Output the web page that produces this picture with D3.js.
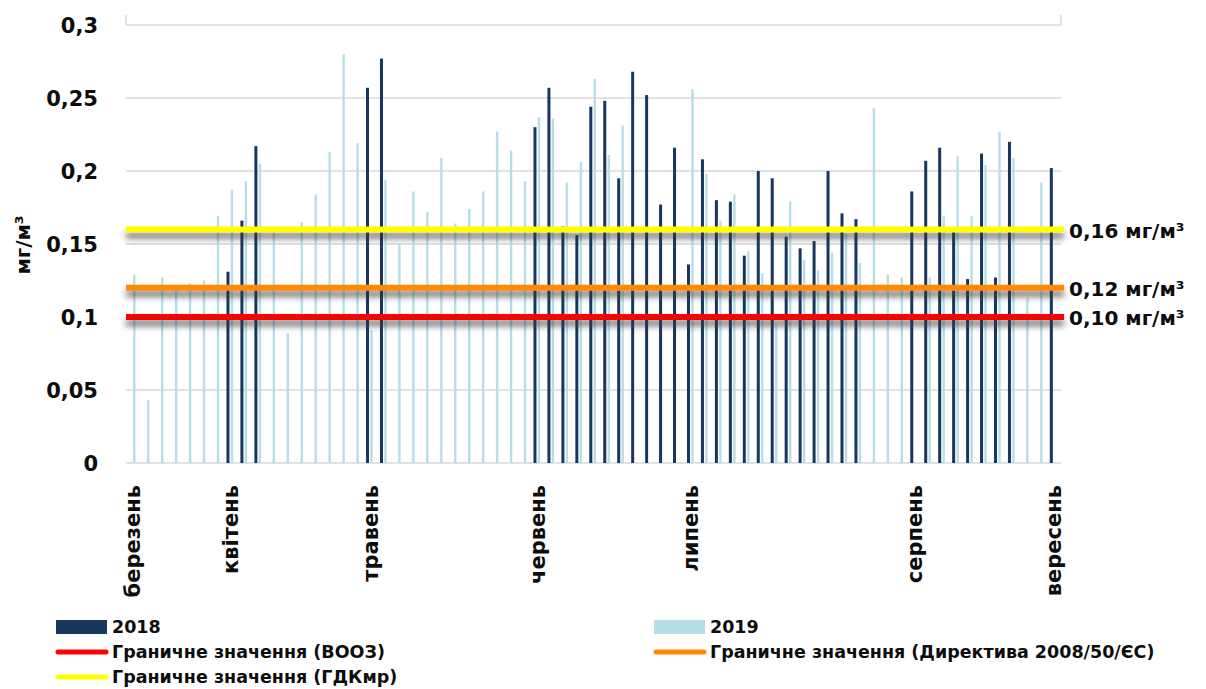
<!DOCTYPE html>
<html>
<head>
<meta charset="utf-8">
<script src="https://cdn.jsdelivr.net/npm/d3@7"></script>
<style>
  body { margin: 0; background: #ffffff; }
  svg text { font-family: "DejaVu Sans", sans-serif; font-weight: bold; fill: #0d0d0d; }
</style>
</head>
<body>
<svg id="chart" width="1206" height="689"></svg>
<script>
// Daily concentrations, мг/м³ (null = no measurement that day)
const values2018 = [
  null, null, null, null, null, null, null, 0.131, 0.166, 0.217,
  null, null, null, null, null, null, null, 0.257, 0.277, null,
  null, null, null, null, null, null, null, null, null, 0.230,
  0.257, 0.162, 0.156, 0.244, 0.248, 0.195, 0.268, 0.252, 0.177, 0.216,
  0.136, 0.208, 0.180, 0.179, 0.142, 0.200, 0.195, 0.155, 0.147, 0.152,
  0.200, 0.171, 0.167, null, null, null, 0.186, 0.207, 0.216, 0.161,
  0.126, 0.212, 0.127, 0.220, null, null, 0.202
];
const values2019 = [
  0.129, 0.043, 0.127, 0.119, 0.123, 0.125, 0.169, 0.187, 0.193, 0.205,
  0.158, 0.089, 0.165, 0.184, 0.213, 0.280, 0.219, 0.091, 0.194, 0.150,
  0.186, 0.172, 0.209, 0.164, 0.174, 0.186, 0.227, 0.214, 0.193, 0.237,
  0.236, 0.192, 0.206, 0.263, 0.211, 0.231, null, null, null, null,
  0.256, 0.198, 0.166, 0.184, 0.145, 0.130, 0.095, 0.179, 0.139, 0.132,
  0.144, 0.157, 0.137, 0.243, 0.129, 0.127, null, 0.127, 0.169, 0.210,
  0.169, 0.204, 0.227, 0.209, 0.113, 0.192, null
];
const monthNames = ["березень", "квітень", "травень", "червень", "липень", "серпень", "вересень"];
const monthStartIndex = [0, 7, 17, 29, 40, 56, 66];

const limitValues = [0.10, 0.12, 0.16];
const limitLabels = ["0,10 мг/м³", "0,12 мг/м³", "0,16 мг/м³"];
const limitNames = ["Граничне значення (ВООЗ)", "Граничне значення (Директива 2008/50/ЄС)", "Граничне значення (ГДКмр)"];

const yTicks = [0, 0.05, 0.1, 0.15, 0.2, 0.25, 0.3];
const yTickLabels = ["0", "0,05", "0,1", "0,15", "0,2", "0,25", "0,3"];

const seriesNames = ["2018", "2019"];
const seriesColors = ["#17375e", "#b7dee8"];
const limitColors = ["#ff0000", "#ff8a00", "#ffff00"];

const svg = d3.select("#chart");
const plot = { left: 126, right: 1061, top: 25, bottom: 463 };

const categories = values2019.map((_, i) => i);
const x = d3.scaleBand().domain(categories).range([plot.left, plot.right]).padding(0);
const bw = x.bandwidth();
// two bars per day, sitting slightly left of the band centre
const xSeries = d3.scaleBand().domain(seriesNames).range([bw / 2 - 4.7, bw / 2 + 3.3]);
const y = d3.scaleLinear().domain([0, 0.3]).range([plot.bottom, plot.top]);

// soft shadow under the limit lines
const defs = svg.append("defs");
const f = defs.append("filter").attr("id", "lineShadow")
  .attr("filterUnits", "userSpaceOnUse")
  .attr("x", 0).attr("y", 0).attr("width", 1206).attr("height", 689);
f.append("feDropShadow").attr("dx", 0).attr("dy", 6).attr("stdDeviation", 3)
  .attr("flood-color", "#333333").attr("flood-opacity", 0.7);

// gridlines
svg.append("g").selectAll("line").data(yTicks).join("line")
  .attr("x1", plot.left).attr("x2", plot.right)
  .attr("y1", d => y(d)).attr("y2", d => y(d))
  .attr("stroke", "#d9d9d9").attr("stroke-width", 1.5);
svg.append("g").selectAll("line").data([plot.left, plot.right]).join("line")
  .attr("x1", d => d).attr("x2", d => d)
  .attr("y1", plot.top - 10).attr("y2", plot.top)
  .attr("stroke", "#d9d9d9").attr("stroke-width", 1.5);

// y tick labels
svg.append("g").selectAll("text").data(yTicks).join("text")
  .attr("x", 98).attr("y", d => y(d)).attr("dy", "0.36em")
  .attr("text-anchor", "end").style("font-size", "21px")
  .text((d, i) => yTickLabels[i]);

// y title
svg.append("text")
  .attr("transform", "translate(30,245) rotate(-90)")
  .attr("text-anchor", "middle").style("font-size", "20px")
  .text("мг/м³");

// bars
const barWidths = { "2018": 3, "2019": 2.4 };
[values2018, values2019].forEach((vals, si) => {
  const name = seriesNames[si];
  svg.append("g").selectAll("rect")
    .data(vals.map((v, i) => ({ i, v })).filter(d => d.v != null))
    .join("rect")
    .attr("x", d => x(d.i) + xSeries(name) + xSeries.bandwidth() / 2 - barWidths[name] / 2)
    .attr("width", barWidths[name])
    .attr("y", d => y(d.v))
    .attr("height", d => y(0) - y(d.v))
    .attr("fill", seriesColors[si]);
});

// limit lines
const limG = svg.append("g");
limitValues.forEach((v, i) => {
  limG.append("line")
    .attr("x1", plot.left).attr("x2", plot.right + 3)
    .attr("y1", y(v)).attr("y2", y(v))
    .attr("stroke", limitColors[i]).attr("stroke-width", 6)
    .attr("filter", "url(#lineShadow)");
});

// limit labels on the right
svg.append("g").selectAll("text").data(limitValues).join("text")
  .attr("x", 1069).attr("y", d => y(d) + 1).attr("dy", "0.36em")
  .style("font-size", "20px")
  .text((d, i) => limitLabels[i]);

// month labels
svg.append("g").selectAll("text").data(monthStartIndex).join("text")
  .attr("transform", d => `translate(${x(d) + bw / 2 + 1},485) rotate(-90)`)
  .attr("text-anchor", "end").attr("dy", "0.3em")
  .style("font-size", "21px")
  .text((d, i) => monthNames[i]);

// legend
const leg = svg.append("g").style("font-size", "17.5px");
const legCols = [56, 654];
const legRows = [627, 652, 677];
const legItems = [
  { type: "rect", color: seriesColors[0], label: seriesNames[0], col: 0, row: 0 },
  { type: "rect", color: seriesColors[1], label: seriesNames[1], col: 1, row: 0 },
  { type: "line", color: limitColors[0], label: limitNames[0], col: 0, row: 1 },
  { type: "line", color: limitColors[1], label: limitNames[1], col: 1, row: 1 },
  { type: "line", color: limitColors[2], label: limitNames[2], col: 0, row: 2 }
];
legItems.forEach(it => {
  const lx = legCols[it.col], ly = legRows[it.row];
  if (it.type === "rect") {
    leg.append("rect").attr("x", lx).attr("y", ly - 7).attr("width", 51).attr("height", 14).attr("fill", it.color);
  } else {
    leg.append("line").attr("x1", lx + 2).attr("x2", lx + 50).attr("y1", ly).attr("y2", ly)
      .attr("stroke", it.color).attr("stroke-width", 5).attr("stroke-linecap", "round");
  }
  leg.append("text").attr("x", lx + 56).attr("y", ly).attr("dy", "0.36em").text(it.label);
});
</script>
</body>
</html>
